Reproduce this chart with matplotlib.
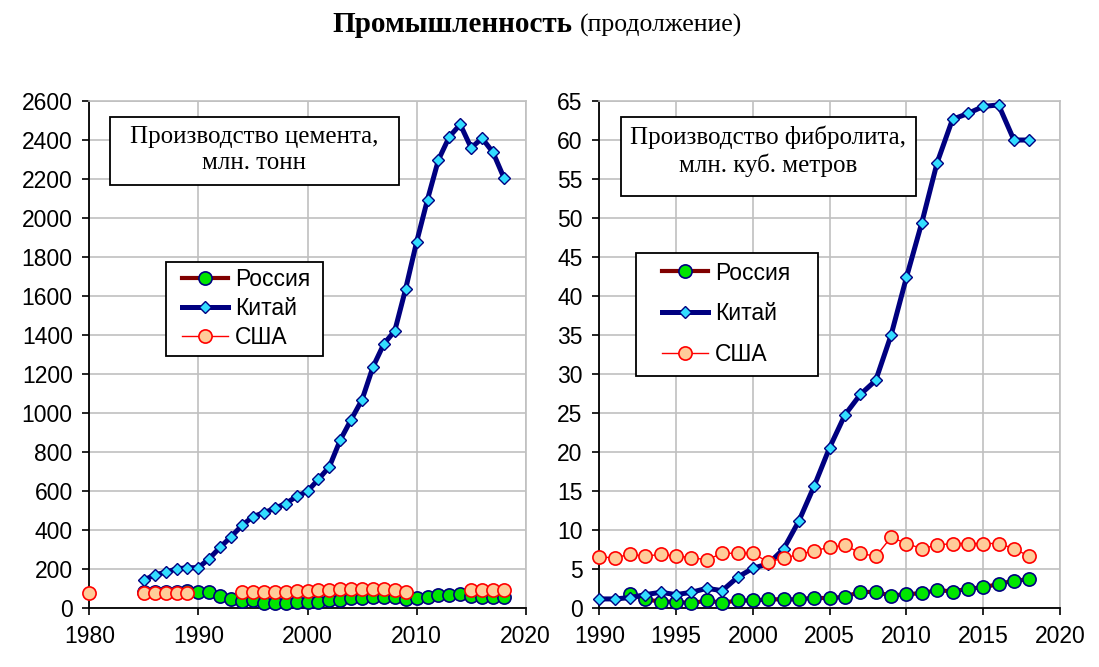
import numpy as np
import matplotlib
matplotlib.use('Agg')
import matplotlib.pyplot as plt
from matplotlib.patches import Rectangle

nan = np.nan

# --- cement, mln t ---
cem_years = np.arange(1980, 2019)
cem_russia = [nan, nan, nan, nan, nan,
              85, 84, 84, 84, 90, 82, 82, 65, 50, 38, 41, 27, 29, 29, 34,
              32, 34, 43, 43, 51, 51, 58, 58, 56, 48, 51, 58, 67, 68, 75,
              63, 60, 60, 60]
cem_china = [nan, nan, nan, nan, nan,
             145, 171, 185, 202, 208, 208, 255, 313, 367, 425, 470, 490, 512, 537, 573,
             600, 661, 725, 862, 967, 1069, 1237, 1355, 1422, 1638, 1877, 2095, 2298, 2417, 2480,
             2360, 2409, 2337, 2207]
cem_usa = [77, nan, nan, nan, nan,
           77, 77, 77, 77, 78, nan, nan, nan, nan, 82, 82, 81, 82, 84, 91,
           91, 92, 92, 99, 101, 101, 99, 99, 92, 82, nan, nan, nan, nan, nan,
           92, 92, 92, 92]

# --- fibreboard, mln m3 ---
fib_years = np.arange(1990, 2019)
fib_russia = [nan, nan, 1.8, 1.15, 0.85, 0.85, 0.65, 1.0, 0.7, 1.0,
              1.0, 1.15, 1.15, 1.15, 1.37, 1.28, 1.5, 2.1, 2.1, 1.6,
              1.85, 1.9, 2.35, 2.15, 2.5, 2.7, 3.1, 3.55, 3.7]
fib_china = [1.2, 1.2, 1.37, 1.75, 2.05, 1.75, 2.05, 2.56, 2.26, 3.97,
             5.13, 5.7, 7.6, 11.2, 15.7, 20.6, 24.8, 27.4, 29.2, 35.0,
             42.4, 49.4, 57.1, 62.65, 63.4, 64.3, 64.5, 60.0, 60.0]
fib_usa = [6.54, 6.5, 6.9, 6.7, 6.9, 6.7, 6.5, 6.2, 7.05, 7.05,
           7.05, 5.9, 6.45, 6.9, 7.4, 7.8, 8.1, 7.05, 6.65, 9.1,
           8.3, 7.65, 8.1, 8.3, 8.3, 8.3, 8.3, 7.65, 6.65]

labels = ['Россия', 'Китай', 'США']

sans = 'Liberation Sans'
serif = 'Liberation Serif'
plt.rcParams['font.family'] = sans

fig = plt.figure(figsize=(10.99, 6.67), dpi=100)
W, H = 1099, 667


def make_ax(x0, x1, y0, y1):
    return fig.add_axes([x0 / W, 1 - y1 / H, (x1 - x0) / W, (y1 - y0) / H])


def draw_series(ax, years, russia, china, usa):
    ax.plot(years, russia, color='#800000', lw=3, marker='o', ms=9.5,
            mfc='#00E600', mec='#000080', mew=1.2, label=labels[0], clip_on=False, zorder=3)
    ax.plot(years, china, color='#000080', lw=3.6, marker='D', ms=6.5,
            mfc='#33DDFF', mec='#000080', mew=1.0, label=labels[1], clip_on=False, zorder=4)
    ax.plot(years, usa, color='#FF0000', lw=1.0, marker='o', ms=9.5,
            mfc='#FFCC99', mec='#FF0000', mew=1.2, label=labels[2], clip_on=False, zorder=5)


def style_ax(ax):
    ax.grid(True, color='#C0C0C0', lw=1.2)
    ax.set_axisbelow(True)
    for s in ['top', 'right']:
        ax.spines[s].set_color('#C0C0C0')
        ax.spines[s].set_linewidth(1.2)
    for s in ['left', 'bottom']:
        ax.spines[s].set_color('black')
        ax.spines[s].set_linewidth(1.3)
    ax.tick_params(direction='out', length=5, width=1.2, labelsize=16.5, pad=7)
    ax.tick_params(axis='x', pad=7)


def px_box(ax, x0, y0, x1, y1, z):
    # rectangle given in figure pixels (top-left origin)
    r = Rectangle((x0 / W, 1 - y1 / H), (x1 - x0) / W, (y1 - y0) / H,
                  transform=fig.transFigure, facecolor='white', edgecolor='black',
                  lw=1.3, zorder=z)
    ax.add_patch(r)
    r.set_clip_on(False)


def add_box(ax, x0, y0, x1, y1, text, ty):
    px_box(ax, x0, y0, x1, y1, 10)
    ax.text((x0 + x1) / 2 / W, 1 - ty / H, text, transform=fig.transFigure, ha='center',
            va='center', fontsize=18, family=serif, linespacing=1.25, zorder=11)


def add_legend(ax, frame, hx, ty, spacing):
    px_box(ax, *frame, 8)
    leg = ax.legend(loc='upper left', bbox_to_anchor=(hx / W, 1 - ty / H),
                    bbox_transform=fig.transFigure, borderaxespad=0, borderpad=0,
                    fontsize=16.5, frameon=False, handlelength=2.0,
                    labelspacing=spacing, handletextpad=0.3)
    leg.set_zorder(9)


# left chart
ax1 = make_ax(89.3, 525.7, 101, 608.3)
draw_series(ax1, cem_years, cem_russia, cem_china, cem_usa)
ax1.set_xlim(1980, 2020)
ax1.set_ylim(0, 2600)
ax1.set_xticks(np.arange(1980, 2021, 10))
ax1.set_yticks(np.arange(0, 2601, 200))
style_ax(ax1)
add_box(ax1, 110, 117, 399, 185, 'Производство цемента,\nмлн. тонн', 150)
add_legend(ax1, (166, 262, 323, 356), 182, 268.5, 0.245)

# right chart
ax2 = make_ax(599.3, 1060, 101, 608.3)
draw_series(ax2, fib_years, fib_russia, fib_china, fib_usa)
ax2.set_xlim(1990, 2020)
ax2.set_ylim(0, 65)
ax2.set_xticks(np.arange(1990, 2021, 5))
ax2.set_yticks(np.arange(0, 66, 5))
style_ax(ax2)
add_box(ax2, 621, 117, 916, 196, 'Производство фибролита,\nмлн. куб. метров', 151)
add_legend(ax2, (636, 253, 818, 376), 662, 261.5, 0.77)

# title
fig.text(572 / W, 1 - 25 / H, 'Промышленность', ha='right', va='center',
         fontsize=21, fontweight='bold', family=serif)
fig.text(580 / W, 1 - 25 / H, '(продолжение)', ha='left', va='center',
         fontsize=18.5, family=serif)

fig.savefig('out.png', dpi=100)
